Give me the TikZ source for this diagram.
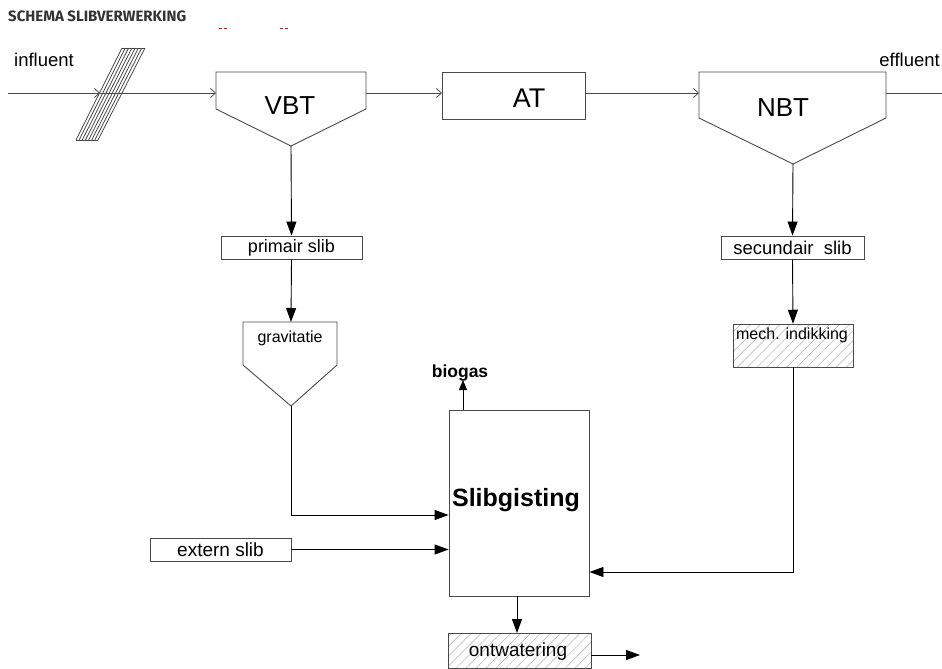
\documentclass[tikz,border=0pt]{standalone}
\usepackage{fontspec}
\setmainfont{Liberation Sans}
\newfontfamily\titlefont{Fira Sans}
\usetikzlibrary{arrows.meta,patterns.meta}
\definecolor{ln}{HTML}{4A4A4A}
\tikzset{
  line/.style={draw=ln,line width=0.9pt},
  openarr/.style={line,-{Straight Barb[length=5pt,width=9pt,line width=0.8pt]}},
  fillarr/.style={line,-{Triangle[length=14pt,width=10pt]},draw=black},
  smallarr/.style={line,-{Triangle[length=10pt,width=8pt]},draw=black},
  boxr/.style={draw=ln,line width=0.9pt,fill=white,inner sep=0pt},
  hatch/.style={pattern={Lines[angle=45,distance=7pt,line width=0.5pt]},pattern color=gray!60},
  lbl/.style={inner sep=0pt,text=black}
}
\begin{document}
\begin{tikzpicture}[x=1pt,y=-1pt]
\useasboundingbox (0,0) rectangle (942,669);
\fill[white] (0,0) rectangle (942,669);
% title
\node[lbl,anchor=west,text=black!80] (title) at (8,16) {\titlefont\fontsize{15}{17}\selectfont\bfseries SCHEMA SLIBVERWERKING};
% small red marks
\draw[red,line width=1pt] (219,29) -- (222,29) (224,29) -- (227,29) (280,29) -- (283,29) (285,29) -- (288,29);
% labels
\node[lbl,anchor=west] (influent) at (14,60) {\fontsize{18.5}{20}\selectfont influent};
\node[lbl,anchor=east] (effluent) at (940,60) {\fontsize{18.5}{20}\selectfont effluent};
% coordinates
\coordinate (start) at (8,93);
\coordinate (end) at (942,93);
\coordinate (scrmid) at (100,93);
% screen (hatched parallelogram)
\fill[white] (76,140) -- (98,140) -- (145,48) -- (122,48) -- cycle;
\foreach \k in {0,...,7} {
  \draw[line,line width=0.8pt] ({76+\k*22/7},140) -- ({122+\k*23/7},48);
}
\draw[line,line width=0.8pt] (76,140) -- (98,140) (122,48) -- (145,48);
% VBT
\draw[line,fill=white] (216,72) -- (366,72) -- (366,109) -- (291,146) -- (216,109) -- cycle;
\coordinate (vbtin) at (216,93);
\coordinate (vbtout) at (366,93);
\coordinate (vbtbot) at (291,146);
\node[lbl] (vbt) at (290,106) {\fontsize{26}{28}\selectfont VBT};
% AT
\draw[line,fill=white] (442,72) rectangle (585,119);
\coordinate (atin) at (442,93);
\coordinate (atout) at (585,93);
\node[lbl] (at) at (529,98) {\fontsize{27}{29}\selectfont AT};
% NBT
\draw[line,fill=white] (699,72) -- (886,72) -- (886,118) -- (793,164) -- (699,118) -- cycle;
\coordinate (nbtin) at (699,93);
\coordinate (nbtout) at (886,93);
\coordinate (nbtbot) at (793,164);
\node[lbl] (nbt) at (783,108) {\fontsize{26}{28}\selectfont NBT};
% main line
\draw[openarr] (start) -- (scrmid);
\draw[line] (scrmid) -- (120,93);
\draw[openarr] (120,93) -- (vbtin);
\draw[openarr] (vbtout) -- (atin);
\draw[openarr] (atout) -- (nbtin);
\draw[line] (nbtout) -- (end);
% primair slib
\node[boxr,minimum width=141pt,minimum height=23pt] (prim) at (291.5,247.5) {\fontsize{18}{20}\selectfont primair slib};
\draw[fillarr] (vbtbot) -- (prim.north);
% gravitatie
\draw[line,fill=white] (243,322) -- (337,322) -- (337,365) -- (291,406) -- (243,365) -- cycle;
\coordinate (gravtop) at (291,322);
\coordinate (gravbot) at (291,406);
\node[lbl] (grav) at (290,338) {\fontsize{16}{18}\selectfont gravitatie};
\draw[fillarr] (prim.south) -- (gravtop);
% secundair slib
\node[boxr,minimum width=143pt,minimum height=23pt] (sec) at (792.5,247.5) {\fontsize{18.5}{20}\selectfont secundair\ \ slib};
\draw[fillarr] (nbtbot) -- (sec.north);
% mech. indikking
\node[boxr,hatch,minimum width=120pt,minimum height=43pt] (mech) at (793,345.5) {};
\node[lbl] (mechlbl) at (792,335) {\fontsize{16}{18}\selectfont mech. indikking};
\draw[fillarr] (sec.south) -- (mech.north);
% Slibgisting
\node[boxr,minimum width=140pt,minimum height=186pt] (gist) at (519,503) {};
\node[lbl] (gistlbl) at (516,500) {\fontsize{25}{27}\selectfont\bfseries Slibgisting};
\coordinate (gasbase) at (463,410);
\coordinate (gastip) at (463,380);
\draw[smallarr] (gasbase) -- (gastip);
\node[lbl] (biogas) at (460,373) {\fontsize{17.5}{19}\selectfont\bfseries biogas};
% from gravitatie
\coordinate (gcorner) at (291,515);
\draw[fillarr] (gravbot) -- (gcorner) -- (gcorner -| gist.west);
% extern slib
\node[boxr,minimum width=141pt,minimum height=23pt] (ext) at (220.5,549.5) {\fontsize{19}{21}\selectfont extern slib};
\draw[fillarr] (ext.east) -- (ext.east -| gist.west);
% from mech
\coordinate (mcorner) at (793,572);
\draw[fillarr] (mech.south) -- (mcorner) -- (mcorner -| gist.east);
% ontwatering
\node[boxr,hatch,minimum width=143pt,minimum height=35pt] (ont) at (519.5,651) {};
\node[lbl] (ontlbl) at (518,652) {\fontsize{19}{21}\selectfont ontwatering};
\draw[fillarr] (gist.south -| 517,0) -- (517,633);
\coordinate (ontend) at (640,655);
\draw[fillarr] (ont.east |- ontend) -- (ontend);
\end{tikzpicture}
\end{document}
